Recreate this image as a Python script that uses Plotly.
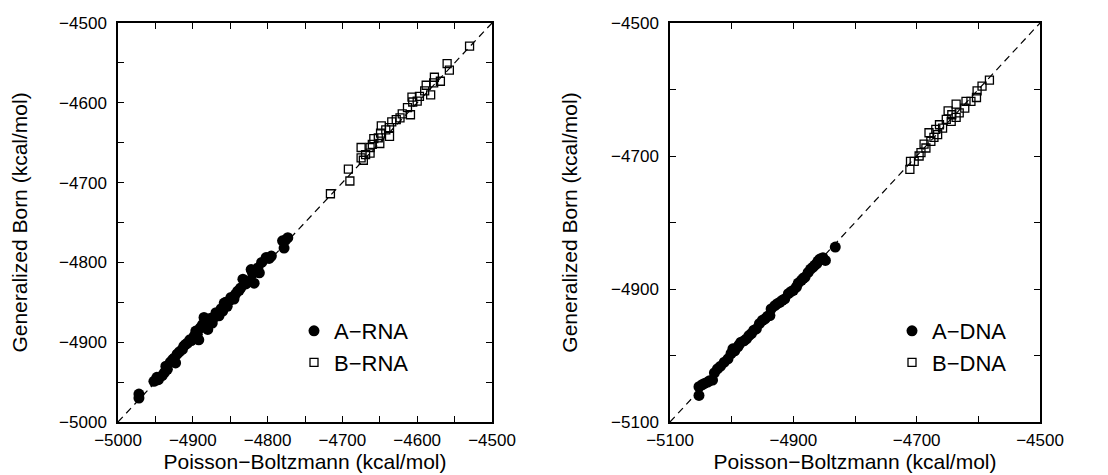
import plotly.graph_objects as go

# ---- data (kcal/mol) ----
arna_pb = [-4972, -4972, -4952, -4946, -4941, -4936, -4934, -4927, -4921, -4923, -4914, -4912, -4907, -4904,
           -4898, -4892, -4896, -4887, -4885, -4880, -4878, -4874, -4869, -4865, -4860, -4858, -4854, -4849,
           -4845, -4840, -4836, -4833, -4829, -4822, -4818, -4813, -4811, -4802, -4795, -4780, -4778, -4773,
           -4948, -4938, -4930, -4925, -4918, -4910, -4902, -4894, -4890, -4883, -4876, -4870, -4862, -4856,
           -4851, -4843, -4838, -4831, -4826, -4820, -4815, -4808, -4798, -4776]
arna_gb = [-4965, -4970, -4949, -4947, -4942, -4930, -4934, -4922, -4915, -4926, -4909, -4905, -4901, -4897,
           -4892, -4897, -4886, -4878, -4869, -4884, -4873, -4876, -4863, -4867, -4861, -4851, -4855, -4844,
           -4846, -4836, -4832, -4821, -4827, -4809, -4826, -4807, -4813, -4794, -4792, -4773, -4782, -4769,
           -4944, -4938, -4925, -4920, -4912, -4903, -4898, -4890, -4882, -4877, -4870, -4868, -4858, -4850,
           -4848, -4840, -4835, -4826, -4824, -4814, -4810, -4800, -4795, -4772]
brna_pb = [-4530, -4560, -4557, -4577, -4569, -4578, -4588, -4582, -4590, -4597, -4600, -4607, -4606, -4613,
           -4620, -4609, -4623, -4628, -4634, -4637, -4642, -4648, -4637, -4649, -4652, -4658, -4650, -4660,
           -4663, -4675, -4669, -4672, -4675, -4663, -4692, -4690, -4716]
brna_gb = [-4529, -4551, -4559, -4568, -4573, -4575, -4578, -4590, -4585, -4592, -4598, -4593, -4599, -4606,
           -4614, -4615, -4619, -4621, -4624, -4631, -4634, -4629, -4642, -4638, -4644, -4645, -4651, -4652,
           -4656, -4656, -4665, -4672, -4669, -4663, -4683, -4698, -4714]

adna_pb = [-4832, -4857, -4862, -4868, -4876, -4881, -4887, -4895, -4900, -4908, -4914, -4922, -4930, -4936,
           -4938, -4946, -4955, -4960, -4968, -4976, -4985, -4990, -4998, -5001, -5006, -5023, -5031, -5039,
           -5044, -5053, -5053, -4848,
           -5048, -5036, -5028, -5018, -5012, -4995, -4988, -4980, -4972, -4964, -4950, -4942, -4926, -4918,
           -4904, -4892, -4884, -4872, -4865, -4852, -4860]
adna_gb = [-4837, -4855, -4862, -4867, -4875, -4882, -4887, -4897, -4902, -4907, -4915, -4920, -4925, -4930,
           -4940, -4945, -4952, -4960, -4967, -4975, -4980, -4987, -4990, -4997, -5005, -5020, -5037, -5040,
           -5042, -5047, -5060, -4857,
           -5044, -5038, -5026, -5016, -5010, -4993, -4984, -4978, -4970, -4962, -4947, -4941, -4922, -4917,
           -4904, -4891, -4884, -4870, -4864, -4853, -4858]
bdna_pb = [-4582, -4594, -4602, -4603, -4612, -4620, -4622, -4631, -4643, -4636, -4644, -4652, -4658, -4669,
           -4666, -4672, -4677, -4680, -4685, -4688, -4693, -4696, -4704, -4710, -4711, -4663, -4649, -4636]
bdna_gb = [-4586, -4595, -4602, -4612, -4618, -4618, -4628, -4635, -4638, -4642, -4648, -4645, -4658, -4660,
           -4668, -4672, -4678, -4665, -4688, -4682, -4695, -4700, -4708, -4708, -4720, -4653, -4632, -4622]

left_range = [-5000, -4500]
right_range = [-5100, -4500]
left_ticks = [-5000, -4900, -4800, -4700, -4600, -4500]
right_ticks = [-5100, -4900, -4700, -4500]

def lab(v):
    return str(v).replace("-", "\u2212")

FONT = "Liberation Sans, Arial, sans-serif"
fig = go.Figure()

fig.add_trace(go.Scatter(x=left_range, y=left_range, mode="lines",
                         line=dict(color="black", width=1.2, dash="7px,5px"),
                         showlegend=False, hoverinfo="skip", xaxis="x", yaxis="y"))
fig.add_trace(go.Scatter(x=right_range, y=right_range, mode="lines",
                         line=dict(color="black", width=1.2, dash="7px,5px"),
                         showlegend=False, hoverinfo="skip", xaxis="x2", yaxis="y2"))

circ = dict(symbol="circle", size=11, color="black", line=dict(width=0))
sq = dict(symbol="square-open", size=8, color="black", line=dict(width=1.3, color="black"))

fig.add_trace(go.Scatter(x=arna_pb, y=arna_gb, mode="markers", marker=circ, name="A\u2212RNA",
                         xaxis="x", yaxis="y", legend="legend"))
fig.add_trace(go.Scatter(x=brna_pb, y=brna_gb, mode="markers", marker=sq, name="B\u2212RNA",
                         xaxis="x", yaxis="y", legend="legend"))
fig.add_trace(go.Scatter(x=adna_pb, y=adna_gb, mode="markers", marker=circ, name="A\u2212DNA",
                         xaxis="x2", yaxis="y2", legend="legend2"))
fig.add_trace(go.Scatter(x=bdna_pb, y=bdna_gb, mode="markers", marker=sq, name="B\u2212DNA",
                         xaxis="x2", yaxis="y2", legend="legend2"))

W, H = 1108, 475
def ax(rng, ticks, minor_dtick, domain, anchor, title, standoff, tstandoff):
    return dict(range=rng, domain=domain, anchor=anchor, automargin=False,
                tickmode="array", tickvals=ticks, ticktext=[lab(t) for t in ticks],
                ticks="inside", ticklen=6, tickwidth=1.2, tickcolor="black",
                minor=dict(dtick=minor_dtick, ticks="inside", ticklen=6, tickwidth=1.2, tickcolor="black", showgrid=False),
                showline=True, linecolor="black", linewidth=1.5, mirror="allticks",
                showgrid=False, zeroline=False,
                tickfont=dict(family=FONT, size=17, color="black"),
                ticklabelstandoff=standoff,
                title=dict(text=title, font=dict(family=FONT, size=21, color="black"), standoff=tstandoff))

yd = [1 - 414 / H, 1 - 15 / H]
xt = "Poisson\u2212Boltzmann (kcal/mol)"
yt = "Generalized Born (kcal/mol)"
fig.update_layout(
    width=W, height=H, margin=dict(l=0, r=0, t=0, b=0),
    paper_bgcolor="white", plot_bgcolor="white",
    xaxis=ax(left_range, left_ticks, 50, [110 / W, 484 / W], "y", xt, 2, 0),
    yaxis=ax(left_range, left_ticks, 50, yd, "x", yt, 6, 28),
    xaxis2=ax(right_range, right_ticks, 100, [662 / W, 1032 / W], "y2", xt, 2, 0),
    yaxis2=ax(right_range, right_ticks, 100, yd, "x2", yt, 6, 28),
    legend=dict(x=286 / W, y=1 - 302 / H, xanchor="left", yanchor="top",
                bgcolor="rgba(0,0,0,0)", font=dict(family=FONT, size=22, color="black"),
                itemsizing="trace", tracegroupgap=0),
    legend2=dict(x=884 / W, y=1 - 302 / H, xanchor="left", yanchor="top",
                 bgcolor="rgba(0,0,0,0)", font=dict(family=FONT, size=22, color="black"),
                 itemsizing="trace", tracegroupgap=0),
    showlegend=True,
)
fig.write_html("out.html")
